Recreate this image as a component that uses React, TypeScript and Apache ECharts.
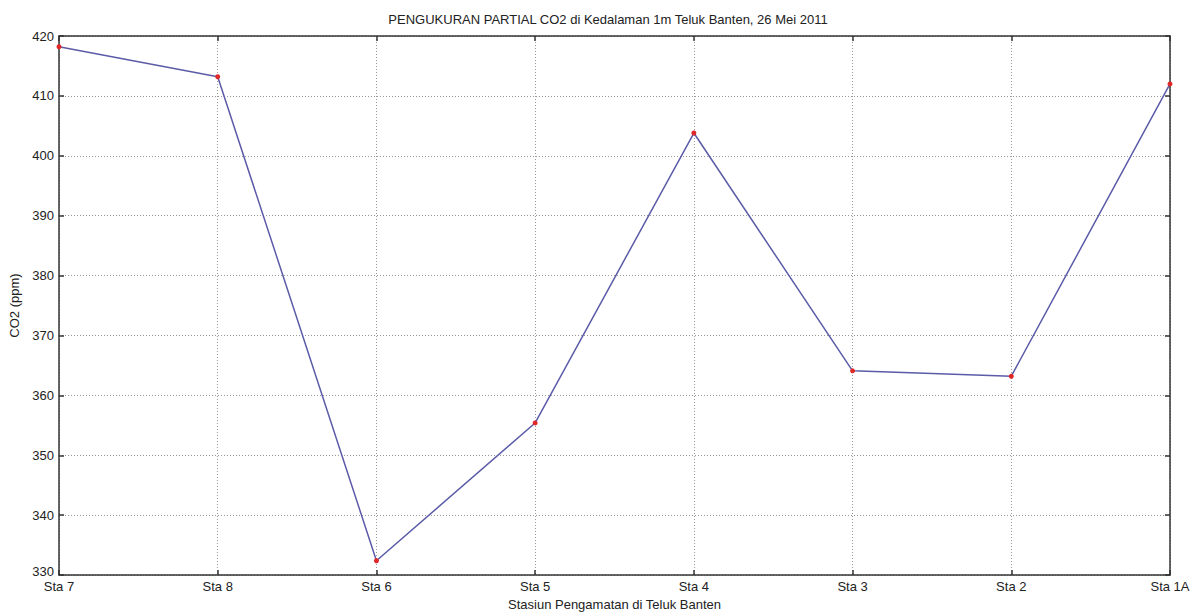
import React, { useEffect, useRef } from "react";
import * as echarts from "echarts";

const stations = ["Sta 7", "Sta 8", "Sta 6", "Sta 5", "Sta 4", "Sta 3", "Sta 2", "Sta 1A"];
const co2Values = [418.2, 413.2, 332.4, 355.4, 403.8, 364.1, 363.2, 412.0];
const yTicks = { min: 330, max: 420, interval: 10 };
const titleText = "PENGUKURAN PARTIAL CO2 di Kedalaman 1m Teluk Banten, 26 Mei 2011";
const xName = "Stasiun Pengamatan di Teluk Banten";
const yName = "CO2 (ppm)";

const FONT = "Liberation Sans, Arial, sans-serif";
const TXT = "#222";
const AX = "#333";

export default function App() {
  const ref = useRef<HTMLDivElement>(null);
  useEffect(() => {
    if (!ref.current) return;
    const chart = echarts.init(ref.current, null, { renderer: "svg" });
    const labelStyle = { color: TXT, fontFamily: FONT, fontSize: 13 };
    chart.setOption({
      animation: false,
      backgroundColor: "#fff",
      title: {
        text: titleText,
        left: 603,
        top: 8,
        textAlign: "center",
        textStyle: { ...labelStyle, fontWeight: "normal", fontSize: 13 },
      },
      grid: { left: 58, right: 25, top: 36, bottom: 38, containLabel: false },
      xAxis: [
        {
          type: "category",
          data: stations,
          boundaryGap: false,
          name: xName,
          nameLocation: "middle",
          nameGap: 22,
          nameTextStyle: labelStyle,
          axisLine: { show: true, lineStyle: { color: AX, width: 1.5 } },
          axisTick: { show: true, inside: true, length: 5, alignWithLabel: true, lineStyle: { color: AX, width: 1.5 } },
          axisLabel: { ...labelStyle, margin: 5, interval: 0 },
          splitLine: { show: true, lineStyle: { color: "#999", type: [1, 2], width: 1 } },
        },
        {
          type: "category",
          data: stations,
          boundaryGap: false,
          position: "top",
          axisLine: { show: true, lineStyle: { color: AX, width: 1.5 } },
          axisTick: { show: true, inside: true, length: 5, lineStyle: { color: AX, width: 1.5 } },
          axisLabel: { show: false },
          splitLine: { show: false },
        },
      ],
      yAxis: [
        {
          type: "value",
          min: yTicks.min,
          max: yTicks.max,
          interval: yTicks.interval,
          name: yName,
          nameLocation: "middle",
          nameGap: 38,
          nameTextStyle: labelStyle,
          axisLine: { show: true, lineStyle: { color: AX, width: 1.5 } },
          axisTick: { show: true, inside: true, length: 5, lineStyle: { color: AX, width: 1.5 } },
          axisLabel: {
            ...labelStyle,
            margin: 5,
            formatter: (v: number) => (v === yTicks.min ? "{low|" + v + "}" : String(v)),
            rich: { low: { ...labelStyle, padding: [0, 0, 8, 0] } },
          },
          splitLine: { show: true, lineStyle: { color: "#999", type: [1, 2], width: 1 } },
        },
        {
          type: "value",
          min: yTicks.min,
          max: yTicks.max,
          interval: yTicks.interval,
          position: "right",
          axisLine: { show: true, lineStyle: { color: AX, width: 1.5 } },
          axisTick: { show: true, inside: true, length: 5, lineStyle: { color: AX, width: 1.5 } },
          axisLabel: { show: false },
          splitLine: { show: false },
        },
      ],
      series: [
        {
          type: "line",
          data: co2Values,
          xAxisIndex: 0,
          yAxisIndex: 0,
          symbol: "circle",
          symbolSize: 5,
          itemStyle: { color: "#e02828" },
          lineStyle: { color: "#5b5ba8", width: 1.5 },
        },
      ],
    });
    return () => chart.dispose();
  }, []);
  return <div ref={ref} style={{ width: 1195, height: 616, position: "absolute", left: 0, top: 0 }} />;
}
